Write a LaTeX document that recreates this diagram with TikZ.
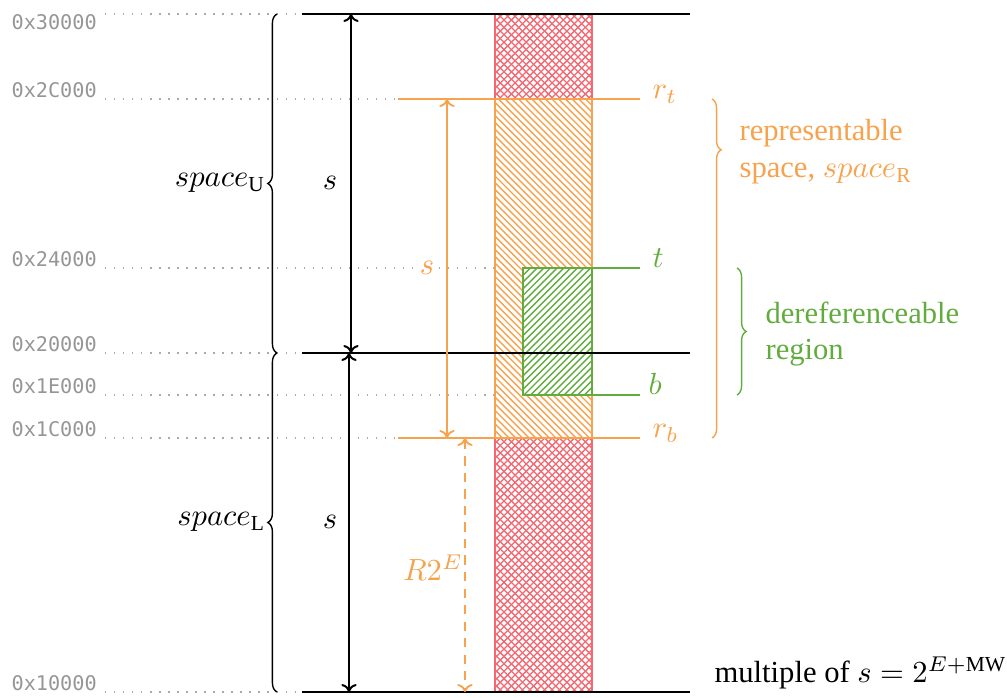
\documentclass[tikz,border=0pt]{standalone}
\usepackage{fontspec}
\setmainfont{Liberation Serif}
\newfontfamily\hexfont{DejaVu Sans Mono}
\usetikzlibrary{decorations.pathreplacing,arrows.meta}
\definecolor{corange}{RGB}{247,162,76}
\definecolor{cgreen}{RGB}{98,172,62}
\definecolor{cred}{RGB}{244,104,114}
\definecolor{cdot}{RGB}{170,170,170}
\definecolor{chex}{RGB}{150,150,150}
\tikzset{
  hexlbl/.style={font=\hexfont\fontsize{6.6}{8}\selectfont, text=chex, anchor=base west, inner sep=0pt},
  guide/.style={draw=cdot, line width=0.45pt, dash pattern=on 0.45pt off 2.5pt},
  blackline/.style={draw=black, line width=0.55pt},
  oline/.style={draw=corange, line width=0.55pt},
  gline/.style={draw=cgreen, line width=0.55pt},
  hatchred/.style={draw=cred, line width=0.42pt},
  hatchorange/.style={draw=corange, line width=0.45pt},
  hatchgreen/.style={draw=cgreen, line width=0.45pt},
  barrow/.style={draw=black, line width=0.65pt, {To[length=2.6pt,width=5pt]}-{To[length=2.6pt,width=5pt]}},
  oarrow/.style={draw=corange, line width=0.6pt, {To[length=2.6pt,width=5pt]}-{To[length=2.6pt,width=5pt]}},
  bracedeco/.style={decorate, decoration={brace, amplitude=3pt, #1}, line width=0.45pt},
  bracedeco/.default={},
  lbl/.style={anchor=base west, inner sep=0pt},
  txt/.style={font=\fontsize{10}{12}\selectfont},
}
\begin{document}
\begin{tikzpicture}[x=0.3268pt, y=-0.3268pt]
\useasboundingbox (0,0) rectangle (1007,698);
% level coordinates
\coordinate (g30) at (105,14);  \coordinate (e30) at (302,14);
\coordinate (g2C) at (105,99);  \coordinate (e2C) at (398,99);
\coordinate (g24) at (105,268); \coordinate (e24) at (523,268);
\coordinate (g20) at (105,353); \coordinate (e20) at (302,353);
\coordinate (g1E) at (105,395); \coordinate (e1E) at (523,395);
\coordinate (g1C) at (105,438); \coordinate (e1C) at (398,438);
\coordinate (g10) at (105,692); \coordinate (e10) at (302,692);
% hex labels
\node[hexlbl] (h30) at (11,30)  {0x30000};
\node[hexlbl] (h2C) at (11,98)  {0x2C000};
\node[hexlbl] (h24) at (11,267) {0x24000};
\node[hexlbl] (h20) at (11,352) {0x20000};
\node[hexlbl] (h1E) at (11,394) {0x1E000};
\node[hexlbl] (h1C) at (11,437) {0x1C000};
\node[hexlbl] (h10) at (11,691) {0x10000};
% guides
\foreach \l in {30,2C,24,20,1E,1C,10} \draw[guide] (g\l) -- (e\l);
% red column (cross hatch)
\begin{scope}
  \clip (495,14) rectangle (592,692);
  \foreach \i in {0,...,108} {
    \draw[hatchred] ({-205+7.4*\i},692) -- ({495+7.4*\i},-8);
    \draw[hatchred] ({-205+7.4*\i},14) -- ({495+7.4*\i},714);
  }
\end{scope}
\draw[draw=cred, line width=0.5pt] (495,14) rectangle (592,692);
% orange box
\fill[white] (495,99) rectangle (592,438);
\begin{scope}
  \clip (495,99) rectangle (592,438);
  \foreach \i in {0,...,65} {
    \draw[hatchorange] ({150+6.7*\i},99) -- ({500+6.7*\i},449);
  }
\end{scope}
\draw[oline] (495,99) rectangle (592,438);
% green box
\fill[white] (523,268) rectangle (592,395);
\begin{scope}
  \clip (523,268) rectangle (592,395);
  \foreach \i in {0,...,32} {
    \draw[hatchgreen] ({390+6.7*\i},395) -- ({540+6.7*\i},245);
  }
\end{scope}
\draw[gline] (523,268) rectangle (592,395);
% horizontal lines
\coordinate (x30) at (690,14);
\coordinate (x20) at (690,353);
\coordinate (x10) at (690,692);
\draw[blackline] (e30) -- (x30);
\draw[blackline] (e20) -- (x20);
\draw[blackline] (e10) -- (x10);
\coordinate (x2C) at (640,99);
\coordinate (x1C) at (640,438);
\coordinate (x24) at (640,268);
\coordinate (x1E) at (640,395);
\draw[oline] (e2C) -- (x2C);
\draw[oline] (e1C) -- (x1C);
\draw[gline] (e24) -- (x24);
\draw[gline] (e1E) -- (x1E);
% right labels
\node[lbl, text=corange, txt] (rt) at (652,99)  {$r_t$};
\node[lbl, text=cgreen, txt]  (t)  at (652,268) {$t$};
\node[lbl, text=cgreen, txt]  (b)  at (648,395) {$b$};
\node[lbl, text=corange, txt] (rb) at (652,438) {$r_b$};
% black arrows
\coordinate (aU1) at (351,14);  \coordinate (aU2) at (351,353);
\coordinate (aL1) at (349,353); \coordinate (aL2) at (349,692);
\draw[barrow] (aU1) -- (aU2);
\draw[barrow] (aL1) -- (aL2);
\node[txt] (sU) at (330,183) {$s$};
\node[txt] (sL) at (330,522) {$s$};
% orange arrows
\coordinate (oA1) at (447,99); \coordinate (oA2) at (447,438);
\draw[oarrow] (oA1) -- (oA2);
\node[txt, text=corange, fill=white, inner sep=1pt] (sR) at (427,268) {$s$};
\coordinate (oB1) at (465,438); \coordinate (oB2) at (465,692);
\draw[oarrow, dash pattern=on 3pt off 2.4pt] (oB1) -- (oB2);
\node[txt, text=corange] (R2E) at (433,568) {$R2^E$};
% black braces
\coordinate (bU1) at (277,353); \coordinate (bU2) at (277,14);
\coordinate (bL1) at (277,692); \coordinate (bL2) at (277,353);
\draw[bracedeco] (bU1) -- (bU2);
\draw[bracedeco] (bL1) -- (bL2);
\node[txt, anchor=east, inner sep=0pt] (spU) at (266,183) {$space_{\mathrm{U}}$};
\node[txt, anchor=east, inner sep=0pt] (spL) at (266,522) {$space_{\mathrm{L}}$};
% orange brace
\coordinate (oc1) at (712,99); \coordinate (oc2) at (712,438);
\draw[bracedeco={aspect=0.15}, draw=corange] (oc1) -- (oc2);
\node[txt, text=corange, anchor=west, align=left, inner sep=0pt] (repr) at (739,152) {representable\\space, $space_{\mathrm{R}}$};
% green brace
\coordinate (gc1) at (737,268); \coordinate (gc2) at (737,395);
\draw[bracedeco, draw=cgreen] (gc1) -- (gc2);
\node[txt, text=cgreen, anchor=west, align=left, inner sep=0pt] (deref) at (765,334) {dereferenceable\\region};
% bottom note
\node[lbl, txt] (mult) at (714,683) {multiple of $s = 2^{E+\mathrm{MW}}$};
\end{tikzpicture}
\end{document}
